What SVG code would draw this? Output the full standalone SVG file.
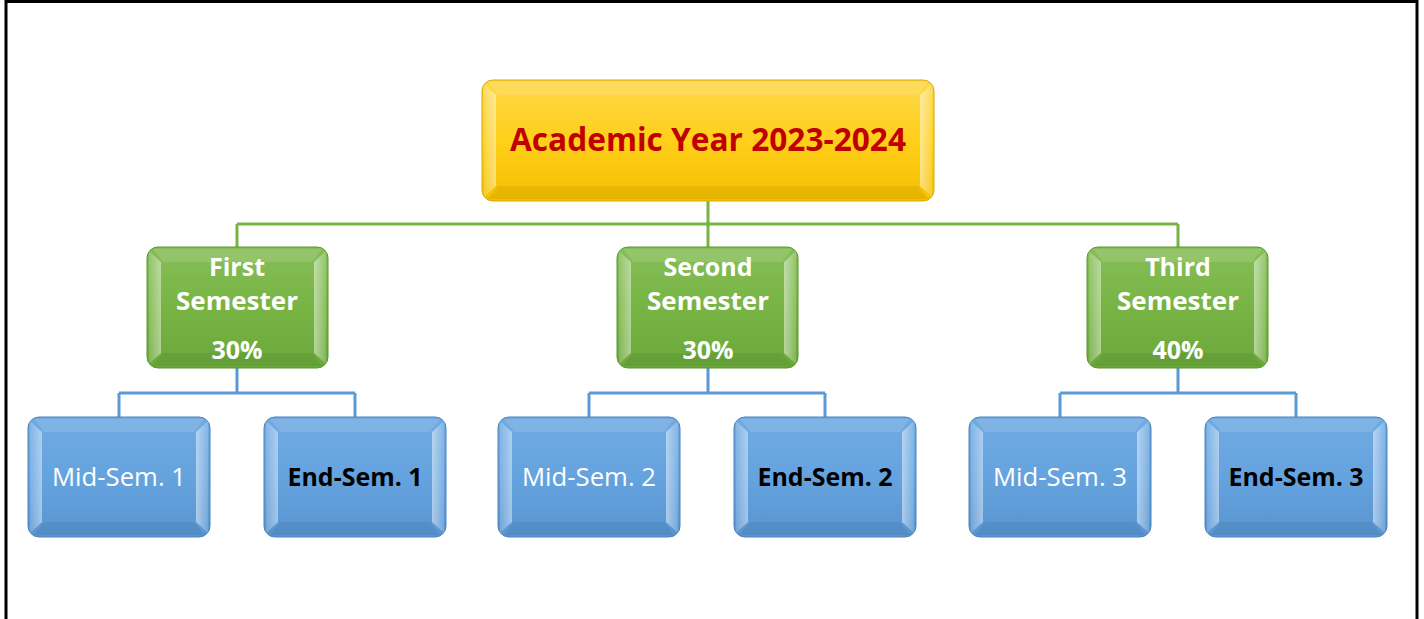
<svg xmlns="http://www.w3.org/2000/svg" width="1424" height="619" viewBox="0 0 1424 619">
<defs>
<linearGradient id="gy" x1="0" y1="0" x2="0" y2="1"><stop offset="0" stop-color="#FDD84A"/><stop offset="0.5" stop-color="#FFCF1A"/><stop offset="1" stop-color="#F5C000"/></linearGradient>
<linearGradient id="gg" x1="0" y1="0" x2="0" y2="1"><stop offset="0" stop-color="#86BE58"/><stop offset="0.5" stop-color="#78B444"/><stop offset="1" stop-color="#6AA83A"/></linearGradient>
<linearGradient id="gb" x1="0" y1="0" x2="0" y2="1"><stop offset="0" stop-color="#70AAE2"/><stop offset="0.5" stop-color="#65A3DF"/><stop offset="1" stop-color="#5894D0"/></linearGradient>
<linearGradient id="hl" x1="0" y1="0" x2="1" y2="0"><stop offset="0" stop-color="#fff" stop-opacity="0.15"/><stop offset="1" stop-color="#fff" stop-opacity="0.45"/></linearGradient>
<linearGradient id="hr" x1="0" y1="0" x2="1" y2="0"><stop offset="0" stop-color="#fff" stop-opacity="0.5"/><stop offset="1" stop-color="#fff" stop-opacity="0.15"/></linearGradient>
</defs>
<style>
.bl{fill:url(#hl)}
.br{fill:url(#hr)}
.bt{fill:#fff;fill-opacity:0.12}
.bb{fill:#000;fill-opacity:0.06}
.o{stroke-width:1}
.oy{stroke:#D9A800}
.og{stroke:#5E9432}
.ob{stroke:#4C83BA}
.t{font-family:"Open Sans","Liberation Sans",sans-serif;text-anchor:middle}
.tg{font-family:"Open Sans","Liberation Sans",sans-serif;font-weight:bold;fill:#fff;font-size:25px;text-anchor:middle}
.mid{fill:#fff;font-size:25px}
.end{fill:#000;font-size:25px;font-weight:bold}
.cg{stroke:#78B444;stroke-width:3;fill:none}
.cb{stroke:#5B9BD5;stroke-width:3;fill:none}
</style>
<rect x="0" y="0" width="1424" height="619" fill="#fff"/>
<path d="M6,619 V1.5 H1417 V619" fill="none" stroke="#000" stroke-width="3"/>

<g id="connectors">
<path class="cg" d="M708,200 V224 M237,224 H1178 M237,224 V248 M708,224 V248 M1178,224 V248"/>
<path class="cb" d="M237,368 V393 M119,393 H355 M119,393 V418 M355,393 V418"/>
<path class="cb" d="M708,368 V393 M589,393 H825 M589,393 V418 M825,393 V418"/>
<path class="cb" d="M1178,368 V393 M1060,393 H1296 M1060,393 V418 M1296,393 V418"/>
</g>

<g id="n-year">
<rect class="o oy" x="482" y="80" width="452" height="121" rx="11" fill="url(#gy)"/>
<polygon class="bl" points="484,84 496,95 496,186 484,197"/>
<polygon class="br" points="932,84 920,95 920,186 932,197"/>
<polygon class="bt" points="488,82 928,82 918,95 498,95"/>
<polygon class="bb" points="498,186 918,186 928,199 488,199"/>
<text class="t" x="708" y="151" font-size="33" font-weight="bold" fill="#C00000" textLength="396" lengthAdjust="spacingAndGlyphs">Academic Year 2023-2024</text>
</g>

<g id="n-first">
<rect class="o og" x="147" y="247" width="181" height="121" rx="11" fill="url(#gg)"/>
<polygon class="bl" points="149,251 161,262 161,353 149,364"/>
<polygon class="br" points="326,251 314,262 314,353 326,364"/>
<polygon class="bt" points="153,249 322,249 312,262 163,262"/>
<polygon class="bb" points="163,353 312,353 322,366 153,366"/>
<text class="tg" x="237" y="276">First</text>
<text class="tg" x="237" y="310" textLength="122" lengthAdjust="spacingAndGlyphs">Semester</text>
<text class="tg" x="237" y="359">30%</text>
</g>

<g id="n-second">
<rect class="o og" x="617" y="247" width="181" height="121" rx="11" fill="url(#gg)"/>
<polygon class="bl" points="619,251 631,262 631,353 619,364"/>
<polygon class="br" points="796,251 784,262 784,353 796,364"/>
<polygon class="bt" points="623,249 792,249 782,262 633,262"/>
<polygon class="bb" points="633,353 782,353 792,366 623,366"/>
<text class="tg" x="708" y="276">Second</text>
<text class="tg" x="708" y="310" textLength="122" lengthAdjust="spacingAndGlyphs">Semester</text>
<text class="tg" x="708" y="359">30%</text>
</g>

<g id="n-third">
<rect class="o og" x="1087" y="247" width="181" height="121" rx="11" fill="url(#gg)"/>
<polygon class="bl" points="1089,251 1101,262 1101,353 1089,364"/>
<polygon class="br" points="1266,251 1254,262 1254,353 1266,364"/>
<polygon class="bt" points="1093,249 1262,249 1252,262 1103,262"/>
<polygon class="bb" points="1103,353 1252,353 1262,366 1093,366"/>
<text class="tg" x="1178" y="276">Third</text>
<text class="tg" x="1178" y="310" textLength="122" lengthAdjust="spacingAndGlyphs">Semester</text>
<text class="tg" x="1178" y="359">40%</text>
</g>

<g id="n-mid1">
<rect class="o ob" x="28" y="417" width="182" height="120" rx="11" fill="url(#gb)"/>
<polygon class="bl" points="30,421 42,432 42,522 30,533"/>
<polygon class="br" points="208,421 196,432 196,522 208,533"/>
<polygon class="bt" points="34,419 204,419 194,432 44,432"/>
<polygon class="bb" points="44,522 194,522 204,535 34,535"/>
<text class="t mid" x="119" y="486" textLength="134" lengthAdjust="spacingAndGlyphs">Mid-Sem. 1</text>
</g>
<g id="n-end1">
<rect class="o ob" x="264" y="417" width="182" height="120" rx="11" fill="url(#gb)"/>
<polygon class="bl" points="266,421 278,432 278,522 266,533"/>
<polygon class="br" points="444,421 432,432 432,522 444,533"/>
<polygon class="bt" points="270,419 440,419 430,432 280,432"/>
<polygon class="bb" points="280,522 430,522 440,535 270,535"/>
<text class="t end" x="355" y="486" textLength="135" lengthAdjust="spacingAndGlyphs">End-Sem. 1</text>
</g>

<g id="n-mid2">
<rect class="o ob" x="498" y="417" width="182" height="120" rx="11" fill="url(#gb)"/>
<polygon class="bl" points="500,421 512,432 512,522 500,533"/>
<polygon class="br" points="678,421 666,432 666,522 678,533"/>
<polygon class="bt" points="504,419 674,419 664,432 514,432"/>
<polygon class="bb" points="514,522 664,522 674,535 504,535"/>
<text class="t mid" x="589" y="486" textLength="134" lengthAdjust="spacingAndGlyphs">Mid-Sem. 2</text>
</g>
<g id="n-end2">
<rect class="o ob" x="734" y="417" width="182" height="120" rx="11" fill="url(#gb)"/>
<polygon class="bl" points="736,421 748,432 748,522 736,533"/>
<polygon class="br" points="914,421 902,432 902,522 914,533"/>
<polygon class="bt" points="740,419 910,419 900,432 750,432"/>
<polygon class="bb" points="750,522 900,522 910,535 740,535"/>
<text class="t end" x="825" y="486" textLength="135" lengthAdjust="spacingAndGlyphs">End-Sem. 2</text>
</g>

<g id="n-mid3">
<rect class="o ob" x="969" y="417" width="182" height="120" rx="11" fill="url(#gb)"/>
<polygon class="bl" points="971,421 983,432 983,522 971,533"/>
<polygon class="br" points="1149,421 1137,432 1137,522 1149,533"/>
<polygon class="bt" points="975,419 1145,419 1135,432 985,432"/>
<polygon class="bb" points="985,522 1135,522 1145,535 975,535"/>
<text class="t mid" x="1060" y="486" textLength="134" lengthAdjust="spacingAndGlyphs">Mid-Sem. 3</text>
</g>
<g id="n-end3">
<rect class="o ob" x="1205" y="417" width="182" height="120" rx="11" fill="url(#gb)"/>
<polygon class="bl" points="1207,421 1219,432 1219,522 1207,533"/>
<polygon class="br" points="1385,421 1373,432 1373,522 1385,533"/>
<polygon class="bt" points="1211,419 1381,419 1371,432 1221,432"/>
<polygon class="bb" points="1221,522 1371,522 1381,535 1211,535"/>
<text class="t end" x="1296" y="486" textLength="135" lengthAdjust="spacingAndGlyphs">End-Sem. 3</text>
</g>
</svg>
